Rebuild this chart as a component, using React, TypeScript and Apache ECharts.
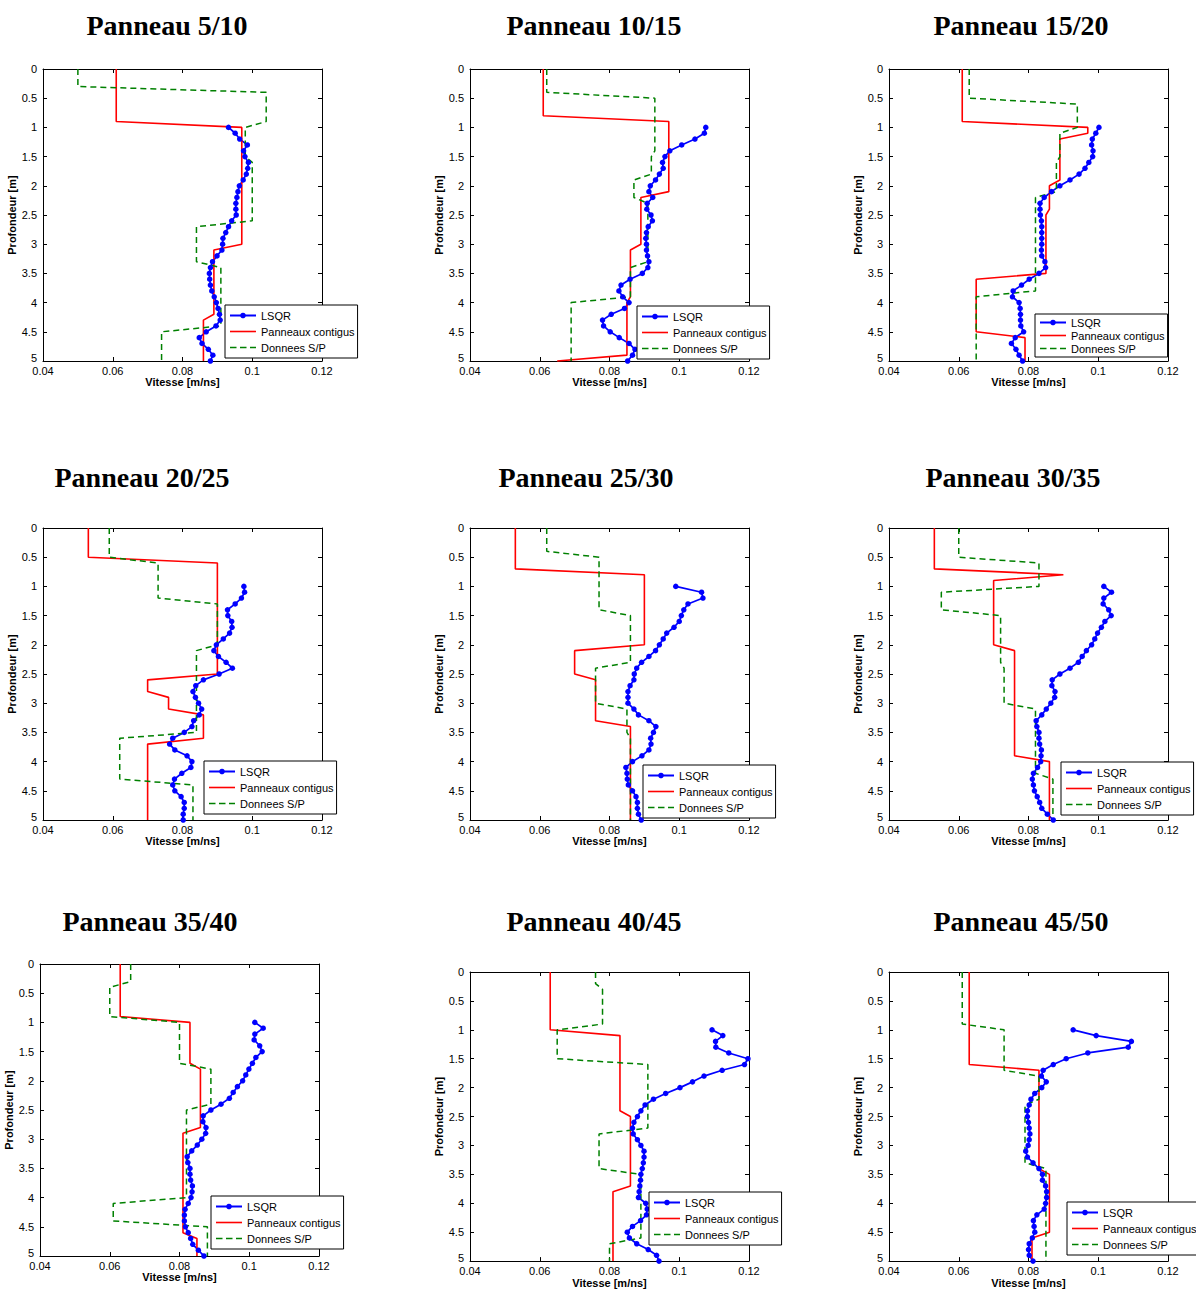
import React, { useEffect, useRef } from "react";
import * as echarts from "echarts";

// ---------------- DATA ----------------
const PANEL_TITLES = [
  "Panneau 5/10", "Panneau 10/15", "Panneau 15/20",
  "Panneau 20/25", "Panneau 25/30", "Panneau 30/35",
  "Panneau 35/40", "Panneau 40/45", "Panneau 45/50",
];

const SERIES_NAMES = ["LSQR", "Panneaux contigus", "Donnees S/P"];
const X_AXIS_NAME = "Vitesse [m/ns]";
const Y_AXIS_NAME = "Profondeur [m]";

const X_MIN = 0.04;
const X_MAX = 0.12;
const X_STEP = 0.02;
const Y_MIN = 0;
const Y_MAX = 5;
const Y_STEP = 0.5;

// depths of the LSQR points (m)
const DEPTHS = [
  1.0, 1.1, 1.2, 1.3, 1.4, 1.5, 1.6, 1.7, 1.8, 1.9,
  2.0, 2.1, 2.2, 2.3, 2.4, 2.5, 2.6, 2.7, 2.8, 2.9,
  3.0, 3.1, 3.2, 3.3, 3.4, 3.5, 3.6, 3.7, 3.8, 3.9,
  4.0, 4.1, 4.2, 4.3, 4.4, 4.5, 4.6, 4.7, 4.8, 4.9, 5.0,
];

// LSQR velocities (m/ns), one per depth
const LSQR_5_10 = [0.0932, 0.0951, 0.0964, 0.0986, 0.0975, 0.0979, 0.0989, 0.0987, 0.0983, 0.0974, 0.0963, 0.0959, 0.0956, 0.0953, 0.0953, 0.0954, 0.0941, 0.0932, 0.0924, 0.0916, 0.0915, 0.0913, 0.0899, 0.0886, 0.088, 0.0877, 0.0878, 0.088, 0.0884, 0.0891, 0.0897, 0.0902, 0.0906, 0.0908, 0.0896, 0.0868, 0.0848, 0.0856, 0.0874, 0.0887, 0.088];
const LSQR_10_15 = [0.1076, 0.1072, 0.1045, 0.1007, 0.0973, 0.0959, 0.0952, 0.0954, 0.0943, 0.0932, 0.0917, 0.0913, 0.0924, 0.0908, 0.0907, 0.0919, 0.0923, 0.0911, 0.0906, 0.0904, 0.0906, 0.0906, 0.0909, 0.0913, 0.091, 0.0894, 0.0859, 0.0833, 0.0827, 0.0838, 0.0856, 0.0843, 0.0805, 0.078, 0.0783, 0.0802, 0.0828, 0.0856, 0.0873, 0.0866, 0.0852];
const LSQR_15_20 = [0.1002, 0.0993, 0.0983, 0.0981, 0.0985, 0.0984, 0.0973, 0.0962, 0.0945, 0.0919, 0.089, 0.0866, 0.0845, 0.0833, 0.0833, 0.0834, 0.0837, 0.0838, 0.0838, 0.0838, 0.0838, 0.0837, 0.0838, 0.0847, 0.0849, 0.083, 0.0802, 0.078, 0.0756, 0.0754, 0.0773, 0.0776, 0.0777, 0.0777, 0.0778, 0.0786, 0.0762, 0.0751, 0.0764, 0.0773, 0.0783];
const LSQR_20_25 = [0.0976, 0.0978, 0.0969, 0.0951, 0.0929, 0.093, 0.0941, 0.0942, 0.0935, 0.0917, 0.0897, 0.089, 0.0903, 0.0925, 0.0943, 0.0905, 0.086, 0.0838, 0.083, 0.0837, 0.0846, 0.0855, 0.0848, 0.0832, 0.0827, 0.0805, 0.0772, 0.0763, 0.0778, 0.0813, 0.0827, 0.0824, 0.0798, 0.0777, 0.0772, 0.0778, 0.0796, 0.0805, 0.0805, 0.0802, 0.0802];
const LSQR_25_30 = [0.099, 0.1064, 0.1068, 0.1025, 0.1013, 0.1006, 0.1, 0.0985, 0.0964, 0.0954, 0.0943, 0.0932, 0.0913, 0.0892, 0.0878, 0.0871, 0.087, 0.0859, 0.0853, 0.0853, 0.0853, 0.087, 0.0883, 0.0913, 0.0933, 0.0926, 0.0918, 0.0919, 0.0913, 0.0893, 0.0866, 0.0847, 0.085, 0.0851, 0.0854, 0.0866, 0.0876, 0.088, 0.088, 0.0883, 0.0891];
const LSQR_30_35 = [0.1016, 0.1038, 0.1016, 0.1014, 0.103, 0.1037, 0.1019, 0.1009, 0.0998, 0.099, 0.0981, 0.0966, 0.0954, 0.0943, 0.0919, 0.089, 0.0868, 0.0867, 0.0876, 0.0875, 0.0864, 0.0851, 0.0838, 0.0822, 0.0824, 0.083, 0.083, 0.0832, 0.0837, 0.0836, 0.0835, 0.0826, 0.0814, 0.0811, 0.0814, 0.0817, 0.0825, 0.0832, 0.0838, 0.0854, 0.0871];
const LSQR_35_40 = [0.1016, 0.104, 0.1016, 0.1014, 0.103, 0.1037, 0.1019, 0.1009, 0.0999, 0.099, 0.0981, 0.0966, 0.0954, 0.0943, 0.0919, 0.089, 0.0868, 0.0867, 0.0876, 0.0875, 0.0864, 0.0851, 0.0835, 0.0822, 0.0824, 0.083, 0.083, 0.0832, 0.0837, 0.0836, 0.0833, 0.0825, 0.0816, 0.0814, 0.0814, 0.0817, 0.0825, 0.0832, 0.0838, 0.0854, 0.087];
const LSQR_40_45 = [0.1094, 0.1125, 0.1104, 0.1105, 0.1142, 0.1197, 0.1187, 0.1123, 0.1071, 0.1038, 0.1002, 0.0961, 0.0926, 0.0902, 0.089, 0.088, 0.087, 0.0866, 0.0868, 0.088, 0.089, 0.0899, 0.0899, 0.0897, 0.0894, 0.089, 0.0889, 0.0887, 0.0885, 0.0883, 0.0904, 0.0908, 0.0906, 0.0889, 0.0866, 0.0851, 0.0857, 0.0878, 0.0911, 0.0935, 0.0942];
const LSQR_45_50 = [0.0928, 0.0994, 0.1095, 0.1086, 0.097, 0.0908, 0.0871, 0.0842, 0.0837, 0.0851, 0.0838, 0.0818, 0.0807, 0.0802, 0.0797, 0.0797, 0.08, 0.0802, 0.0804, 0.0802, 0.0799, 0.0792, 0.0797, 0.0813, 0.083, 0.084, 0.084, 0.0849, 0.0852, 0.0852, 0.0849, 0.0845, 0.0824, 0.0814, 0.0816, 0.0818, 0.0811, 0.0802, 0.08, 0.0802, 0.0813];

// "Panneaux contigus" profiles: [velocity, depth]
const CONTIGUS_5_10 = [[0.061, 0], [0.061, 0.9], [0.097, 1.0], [0.097, 3.0], [0.089, 3.1], [0.089, 4.2], [0.086, 4.3], [0.086, 5]];
const CONTIGUS_10_15 = [[0.061, 0], [0.061, 0.8], [0.097, 0.9], [0.097, 2.1], [0.089, 2.2], [0.089, 3.0], [0.086, 3.1], [0.086, 3.9], [0.085, 4.0], [0.085, 4.9], [0.065, 5]];
const CONTIGUS_15_20 = [[0.061, 0], [0.061, 0.9], [0.097, 1.0], [0.097, 1.1], [0.089, 1.2], [0.089, 1.9], [0.086, 2.0], [0.086, 2.4], [0.085, 2.5], [0.085, 3.5], [0.065, 3.6], [0.065, 4.5], [0.079, 4.6], [0.079, 5]];
const CONTIGUS_20_25 = [[0.053, 0], [0.053, 0.5], [0.09, 0.6], [0.09, 2.5], [0.07, 2.6], [0.07, 2.8], [0.076, 2.9], [0.076, 3.1], [0.086, 3.2], [0.086, 3.6], [0.07, 3.7], [0.07, 5]];
const CONTIGUS_25_30 = [[0.053, 0], [0.053, 0.7], [0.09, 0.8], [0.09, 2.0], [0.07, 2.1], [0.07, 2.5], [0.076, 2.6], [0.076, 3.3], [0.086, 3.4], [0.086, 5]];
const CONTIGUS_30_35 = [[0.053, 0], [0.053, 0.7], [0.09, 0.8], [0.07, 0.9], [0.07, 2.0], [0.076, 2.1], [0.076, 3.9], [0.086, 4.0], [0.086, 5]];
const CONTIGUS_35_40 = [[0.063, 0], [0.063, 0.9], [0.083, 1.0], [0.083, 1.7], [0.086, 1.8], [0.086, 2.8], [0.081, 2.9], [0.081, 4.6], [0.085, 4.7], [0.085, 5]];
const CONTIGUS_40_45 = [[0.063, 0], [0.063, 1.0], [0.083, 1.1], [0.083, 2.4], [0.086, 2.5], [0.086, 3.7], [0.081, 3.8], [0.081, 5]];
const CONTIGUS_45_50 = [[0.063, 0], [0.063, 1.6], [0.083, 1.7], [0.083, 3.4], [0.086, 3.5], [0.086, 4.5], [0.081, 4.6], [0.081, 5]];

// "Donnees S/P" profiles: [velocity, depth]
const SP_5_10 = [[0.05, 0], [0.05, 0.3], [0.104, 0.4], [0.104, 0.9], [0.098, 1.0], [0.098, 1.5], [0.1, 1.6], [0.1, 2.6], [0.084, 2.7], [0.084, 3.3], [0.091, 3.4], [0.091, 4.4], [0.074, 4.5], [0.074, 5]];
const SP_10_15 = [[0.062, 0], [0.062, 0.4], [0.093, 0.5], [0.093, 1.4], [0.092, 1.5], [0.092, 1.8], [0.087, 1.9], [0.087, 2.2], [0.091, 2.3], [0.091, 3.3], [0.086, 3.4], [0.086, 3.9], [0.069, 4.0], [0.069, 5]];
const SP_15_20 = [[0.063, 0], [0.063, 0.5], [0.094, 0.6], [0.094, 1.0], [0.089, 1.1], [0.089, 1.5], [0.088, 1.6], [0.088, 2.1], [0.082, 2.2], [0.082, 3.8], [0.065, 3.9], [0.065, 5]];
const SP_20_25 = [[0.059, 0], [0.059, 0.5], [0.073, 0.6], [0.073, 1.2], [0.09, 1.3], [0.09, 2.0], [0.084, 2.1], [0.084, 3.5], [0.062, 3.6], [0.062, 4.3], [0.083, 4.4], [0.083, 5]];
const SP_25_30 = [[0.062, 0], [0.062, 0.4], [0.077, 0.5], [0.077, 1.4], [0.086, 1.5], [0.086, 2.3], [0.076, 2.4], [0.076, 3.0], [0.085, 3.1], [0.085, 3.5], [0.086, 3.6], [0.086, 5]];
const SP_30_35 = [[0.06, 0], [0.06, 0.5], [0.083, 0.6], [0.083, 1.0], [0.055, 1.1], [0.055, 1.4], [0.072, 1.5], [0.072, 2.3], [0.073, 2.4], [0.073, 3.0], [0.082, 3.1], [0.082, 4.2], [0.087, 4.3], [0.087, 5]];
const SP_35_40 = [[0.066, 0], [0.066, 0.3], [0.06, 0.4], [0.06, 0.9], [0.08, 1.0], [0.08, 1.7], [0.089, 1.8], [0.089, 2.4], [0.082, 2.5], [0.082, 4.0], [0.061, 4.1], [0.061, 4.4], [0.088, 4.5], [0.088, 5]];
const SP_40_45 = [[0.076, 0], [0.076, 0.2], [0.078, 0.3], [0.078, 0.9], [0.065, 1.0], [0.065, 1.5], [0.091, 1.6], [0.091, 2.7], [0.077, 2.8], [0.077, 3.4], [0.089, 3.5], [0.089, 4.6], [0.08, 4.7], [0.08, 5]];
const SP_45_50 = [[0.061, 0], [0.061, 0.9], [0.073, 1.0], [0.073, 1.7], [0.083, 1.8], [0.083, 2.2], [0.079, 2.3], [0.079, 3.3], [0.085, 3.4], [0.085, 5]];

const LSQR_ALL = [LSQR_5_10, LSQR_10_15, LSQR_15_20, LSQR_20_25, LSQR_25_30, LSQR_30_35, LSQR_35_40, LSQR_40_45, LSQR_45_50];
const CONTIGUS_ALL = [CONTIGUS_5_10, CONTIGUS_10_15, CONTIGUS_15_20, CONTIGUS_20_25, CONTIGUS_25_30, CONTIGUS_30_35, CONTIGUS_35_40, CONTIGUS_40_45, CONTIGUS_45_50];
const SP_ALL = [SP_5_10, SP_10_15, SP_15_20, SP_20_25, SP_25_30, SP_30_35, SP_35_40, SP_40_45, SP_45_50];

// ---------------- LAYOUT (pixels) ----------------
const LAYOUT = [
  { left: 43, top: 69, tx: 167, ty: 25, lx: 225, ly: 305, compact: false },
  { left: 470, top: 69, tx: 594, ty: 25, lx: 637, ly: 306, compact: false },
  { left: 889, top: 69, tx: 1021, ty: 25, lx: 1035, ly: 314, compact: true },
  { left: 43, top: 528, tx: 142, ty: 477, lx: 204, ly: 761, compact: false },
  { left: 470, top: 528, tx: 586, ty: 477, lx: 643, ly: 765, compact: false },
  { left: 889, top: 528, tx: 1013, ty: 477, lx: 1061, ly: 762, compact: false },
  { left: 40, top: 964, tx: 150, ty: 921, lx: 211, ly: 1196, compact: false },
  { left: 470, top: 972, tx: 594, ty: 921, lx: 649, ly: 1192, compact: false },
  { left: 889, top: 972, tx: 1021, ty: 921, lx: 1067, ly: 1202, compact: false },
];
const PLOT_W = 279;
const PLOT_H = 292;

const SANS = "'Liberation Sans', Arial, Helvetica, sans-serif";
const SERIF = "'Liberation Serif', 'Times New Roman', serif";
const BLUE = "#0000ff";
const RED = "#ff0000";
const GREEN = "#008000";

const RED_ICON = "path://M0,0H26V1.6H0Z";
const GREEN_ICON = "path://M0,0H6.5V1.5H0Z M10,0H16.5V1.5H10Z M20,0H26V1.5H20Z";

function buildOption() {
  const grid: any[] = [];
  const xAxis: any[] = [];
  const yAxis: any[] = [];
  const series: any[] = [];
  const legend: any[] = [];
  const graphic: any[] = [];

  const tickCommon = { show: true, inside: true, length: 4, lineStyle: { color: "#000", width: 1 } };
  const lineCommon = { show: true, onZero: false, lineStyle: { color: "#000", width: 1 } };

  LAYOUT.forEach((L, i) => {
    grid.push({ left: L.left, top: L.top, width: PLOT_W, height: PLOT_H, containLabel: false });

    xAxis.push({
      type: "value", gridIndex: i, position: "bottom",
      min: X_MIN, max: X_MAX, interval: X_STEP,
      axisLine: lineCommon, axisTick: tickCommon, splitLine: { show: false },
      axisLabel: {
        margin: 4, fontSize: 11, color: "#000", fontFamily: SANS,
        formatter: (v: number) => String(+v.toFixed(2)),
      },
      name: X_AXIS_NAME, nameLocation: "middle", nameGap: 14,
      nameTextStyle: { fontSize: 11, fontWeight: "bold", color: "#000", fontFamily: SANS },
    });
    xAxis.push({
      type: "value", gridIndex: i, position: "top",
      min: X_MIN, max: X_MAX, interval: X_STEP,
      axisLine: lineCommon, axisTick: tickCommon, splitLine: { show: false },
      axisLabel: { show: false },
    });
    yAxis.push({
      type: "value", gridIndex: i, position: "left", inverse: true,
      min: Y_MIN, max: Y_MAX, interval: Y_STEP,
      axisLine: lineCommon, axisTick: tickCommon, splitLine: { show: false },
      axisLabel: {
        margin: 6, fontSize: 11, color: "#000", fontFamily: SANS,
        formatter: (v: number) => {
          const s = String(+v.toFixed(1));
          return v >= Y_MAX ? "{last|" + s + "}" : s;
        },
        rich: {
          last: { fontSize: 11, color: "#000", fontFamily: SANS, padding: [0, 0, 6, 0] },
        },
      },
      name: Y_AXIS_NAME, nameLocation: "middle", nameGap: 22,
      nameTextStyle: { fontSize: 11, fontWeight: "bold", color: "#000", fontFamily: SANS },
    });
    yAxis.push({
      type: "value", gridIndex: i, position: "right", inverse: true,
      min: Y_MIN, max: Y_MAX, interval: Y_STEP,
      axisLine: lineCommon, axisTick: tickCommon, splitLine: { show: false },
      axisLabel: { show: false },
    });

    const xi = i * 2;
    const yi = i * 2;
    series.push({
      type: "line", name: SERIES_NAMES[0], xAxisIndex: xi, yAxisIndex: yi,
      data: DEPTHS.map((d, k) => [LSQR_ALL[i][k], d]),
      symbol: "circle", symbolSize: 5.5, showSymbol: true,
      lineStyle: { color: BLUE, width: 1.7 }, itemStyle: { color: BLUE },
      clip: false, silent: true,
    });
    series.push({
      type: "line", name: SERIES_NAMES[1], xAxisIndex: xi, yAxisIndex: yi,
      data: CONTIGUS_ALL[i], symbol: "none",
      lineStyle: { color: RED, width: 1.6 }, itemStyle: { color: RED },
      clip: false, silent: true,
    });
    series.push({
      type: "line", name: SERIES_NAMES[2], xAxisIndex: xi, yAxisIndex: yi,
      data: SP_ALL[i], symbol: "none",
      lineStyle: { color: GREEN, width: 1.5, type: [6, 4] }, itemStyle: { color: GREEN },
      clip: false, silent: true,
    });

    legend.push({
      left: L.lx, top: L.ly, orient: "vertical", selectedMode: false,
      data: [
        { name: SERIES_NAMES[0] },
        { name: SERIES_NAMES[1], icon: RED_ICON },
        { name: SERIES_NAMES[2], icon: GREEN_ICON },
      ],
      itemWidth: 26, itemHeight: 7,
      itemGap: L.compact ? 0 : 3,
      padding: L.compact ? [2, 3, 2, 4] : [4, 3, 4, 4],
      borderColor: "#000", borderWidth: 1, backgroundColor: "#fff",
      itemStyle: { borderWidth: 0 },
      textStyle: { fontSize: 11, color: "#000", fontFamily: SANS, lineHeight: 13 },
    });

    graphic.push({
      type: "text", x: L.tx, y: L.ty, silent: true,
      style: {
        text: PANEL_TITLES[i], fill: "#000",
        fontSize: 28, fontWeight: "bold", fontFamily: SERIF,
        align: "center", verticalAlign: "middle",
      },
    });
  });

  return {
    animation: false,
    backgroundColor: "#fff",
    grid, xAxis, yAxis, series, legend, graphic,
  };
}

export default function App() {
  const ref = useRef<HTMLDivElement | null>(null);
  useEffect(() => {
    if (!ref.current) return;
    const chart = echarts.init(ref.current, undefined, { renderer: "svg" });
    chart.setOption(buildOption() as any);
    return () => chart.dispose();
  }, []);
  return (
    <div
      ref={ref}
      style={{ position: "absolute", left: 0, top: 0, width: 1196, height: 1289 }}
    />
  );
}
